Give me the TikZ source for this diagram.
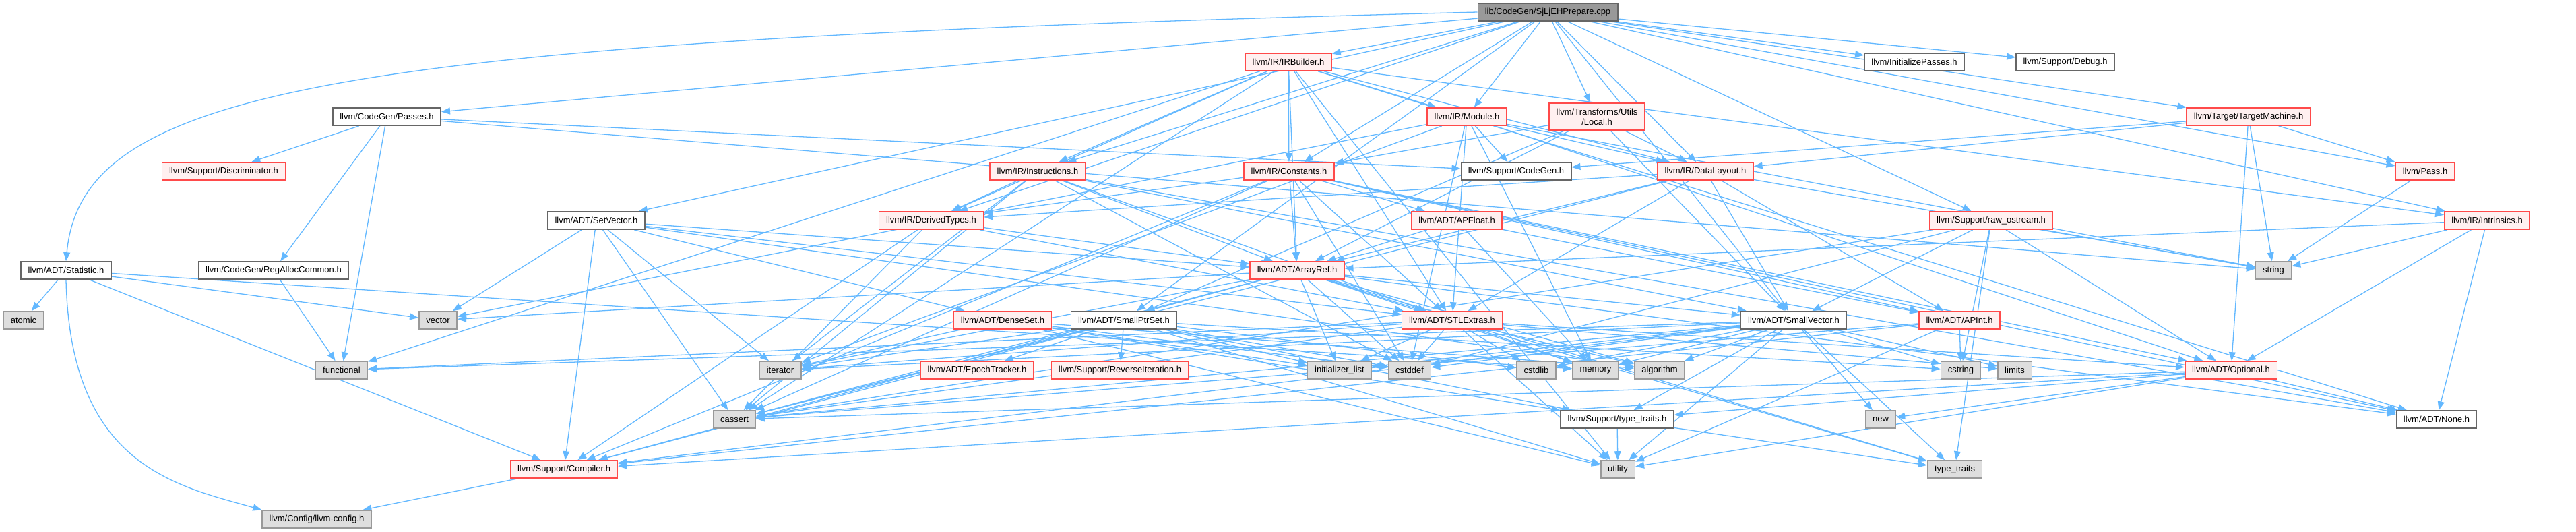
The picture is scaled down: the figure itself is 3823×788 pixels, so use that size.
\documentclass[tikz,border=0pt]{standalone}
\usepackage{fontspec}
\setmainfont{Liberation Sans}
\usetikzlibrary{arrows.meta,backgrounds}
\definecolor{edgeblue}{HTML}{63B8FF}
\definecolor{truncfill}{HTML}{FFF0F0}
\definecolor{truncdraw}{HTML}{FF4A4A}
\definecolor{sysfill}{HTML}{DEDEDE}
\begin{document}
\begin{tikzpicture}[x=1pt, y=-1pt,
    every node/.style={rectangle, minimum height=26pt, inner xsep=10.5pt, inner ysep=0pt,
      line width=1.6pt, font=\fontsize{13}{15}\selectfont},
    hdr/.style={draw=black!60, fill=white},
    trunc/.style={draw=truncdraw, fill=truncfill},
    sys/.style={draw=black!40, fill=sysfill},
    rootnode/.style={draw=black!60, fill=black!40},
    dep/.style={draw=edgeblue, line width=1.3pt, -{Triangle[length=13pt,width=10pt]}}]
      \useasboundingbox (0,0) rectangle (3823,788);

      \node[rootnode] (root) at (2297,18) {lib/CodeGen/SjLjEHPrepare.cpp};

      \node[trunc] (irbuilder) at (1912,92) {llvm/IR/IRBuilder.h};
      \node[hdr] (initpasses) at (2841,92) {llvm/InitializePasses.h};
      \node[hdr] (debug) at (3065,92) {llvm/Support/Debug.h};

      \node[hdr] (cgpasses) at (574,173) {llvm/CodeGen/Passes.h};
      \node[trunc] (module) at (2177,173) {llvm/IR/Module.h};
      \node[trunc, minimum height=40pt, align=center] (local) at (2370,173) {llvm/Transforms/Utils\\/Local.h};
      \node[trunc] (targetmachine) at (3337,173) {llvm/Target/TargetMachine.h};

      \node[trunc] (discriminator) at (332,254) {llvm/Support/Discriminator.h};
      \node[trunc] (instructions) at (1540,254) {llvm/IR/Instructions.h};
      \node[trunc] (constants) at (1913,254) {llvm/IR/Constants.h};
      \node[hdr] (codegen) at (2250,254) {llvm/Support/CodeGen.h};
      \node[trunc] (datalayout) at (2531,254) {llvm/IR/DataLayout.h};
      \node[trunc] (pass) at (3599,254) {llvm/Pass.h};

      \node[hdr] (setvector) at (885,327) {llvm/ADT/SetVector.h};
      \node[trunc] (derivedtypes) at (1382,327) {llvm/IR/DerivedTypes.h};
      \node[trunc] (apfloat) at (2162,327) {llvm/ADT/APFloat.h};
      \node[trunc] (rawostream) at (2955,327) {llvm/Support/raw\_ostream.h};
      \node[trunc] (intrinsics) at (3691,327) {llvm/IR/Intrinsics.h};

      \node[hdr] (statistic) at (98,401) {llvm/ADT/Statistic.h};
      \node[hdr] (regalloc) at (406,401) {llvm/CodeGen/RegAllocCommon.h};
      \node[trunc] (arrayref) at (1925,401) {llvm/ADT/ArrayRef.h};
      \node[sys] (string) at (3374,401) {string};

      \node[sys] (atomic) at (35,475) {atomic};
      \node[sys] (vector) at (650,475) {vector};
      \node[trunc] (denseset) at (1488,475) {llvm/ADT/DenseSet.h};
      \node[hdr] (smallptrset) at (1668,475) {llvm/ADT/SmallPtrSet.h};
      \node[trunc] (stlextras) at (2155,475) {llvm/ADT/STLExtras.h};
      \node[hdr] (smallvector) at (2662,475) {llvm/ADT/SmallVector.h};
      \node[trunc] (apint) at (2908,475) {llvm/ADT/APInt.h};

      \node[sys] (functional) at (507,549) {functional};
      \node[sys] (iterator) at (1158,549) {iterator};
      \node[trunc] (epoch) at (1450,549) {llvm/ADT/EpochTracker.h};
      \node[trunc] (reviter) at (1662,549) {llvm/Support/ReverseIteration.h};
      \node[sys] (initlist) at (1988,549) {initializer\_list};
      \node[sys] (cstddef) at (2092,549) {cstddef};
      \node[sys] (cstdlib) at (2280,549) {cstdlib};
      \node[sys] (memory) at (2368,549) {memory};
      \node[sys] (algorithm) at (2463,549) {algorithm};
      \node[sys] (cstring) at (2910,549) {cstring};
      \node[sys] (limits) at (2990,549) {limits};
      \node[trunc] (optional) at (3311,549) {llvm/ADT/Optional.h};

      \node[sys] (cassert) at (1090,622) {cassert};
      \node[hdr] (typetraitsh) at (2400,622) {llvm/Support/type\_traits.h};
      \node[sys] (new) at (2791,622) {new};
      \node[hdr] (none) at (3616,622) {llvm/ADT/None.h};

      \node[trunc] (compiler) at (837,696) {llvm/Support/Compiler.h};
      \node[sys] (utility) at (2401,696) {utility};
      \node[sys] (typetraits) at (2901,696) {type\_traits};

      \node[sys] (llvmconfig) at (470,770) {llvm/Config/llvm-config.h};

      \begin{scope}[on background layer]
        \foreach \t in {irbuilder,cgpasses,setvector,smallptrset,smallvector,constants,datalayout,
            derivedtypes,instructions,intrinsics,module,initpasses,pass,debug,rawostream,targetmachine,local}
          \draw[dep] (root) -- (\t);
        \draw[dep] (root.west) .. controls (500,60) and (122,130) .. (statistic.north);
        \foreach \t in {discriminator,regalloc,functional,codegen,string}
          \draw[dep] (cgpasses) -- (\t);
        \draw[dep] (regalloc) -- (functional);
        \foreach \t in {atomic,vector,memory,compiler}
          \draw[dep] (statistic) -- (\t);
        \draw[dep] (statistic.south) .. controls (104,690) and (260,720) .. (llvmconfig.north west);
        \draw[dep] (compiler) -- (llvmconfig);
        \foreach \t in {arrayref,none,stlextras,constants,datalayout,derivedtypes,instructions,intrinsics,
            module,cassert,functional,utility}
          \draw[dep] (irbuilder) -- (\t);
        \foreach \t in {optional,stlextras,datalayout,codegen,cstddef,iterator,memory,string,vector}
          \draw[dep] (module) -- (\t);
        \foreach \t in {arrayref,smallptrset,smallvector,constants,datalayout}
          \draw[dep] (local) -- (\t);
        \foreach \t in {codegen,datalayout,pass,optional,string}
          \draw[dep] (targetmachine) -- (\t);
        \foreach \t in {arrayref,none,stlextras,smallvector,derivedtypes,cassert,cstddef,iterator}
          \draw[dep] (instructions) -- (\t);
        \foreach \t in {apfloat,apint,arrayref,none,optional,stlextras,derivedtypes,compiler,cassert,cstddef}
          \draw[dep] (constants) -- (\t);
        \foreach \t in {apint,arrayref,stlextras,smallvector,derivedtypes,cassert,string}
          \draw[dep] (datalayout) -- (\t);
        \draw[dep] (pass) -- (string);
        \foreach \t in {arrayref,none,optional,string}
          \draw[dep] (intrinsics) -- (\t);
        \foreach \t in {smallvector,optional,cassert,cstddef,cstring,string,typetraits}
          \draw[dep] (rawostream) -- (\t);
        \foreach \t in {arrayref,denseset,stlextras,compiler,algorithm,cassert,iterator,vector}
          \draw[dep] (setvector) -- (\t);
        \foreach \t in {arrayref,stlextras,compiler,cassert}
          \draw[dep] (derivedtypes) -- (\t);
        \foreach \t in {apint,arrayref,memory}
          \draw[dep] (apfloat) -- (\t);
        \foreach \t in {none,smallvector,stlextras,compiler,algorithm,cassert,cstddef,initlist,iterator,
            memory,typetraits,vector}
          \draw[dep] (arrayref) -- (\t);
        \foreach \t in {typetraitsh,algorithm,cstddef,initlist,iterator,utility}
          \draw[dep] (denseset) -- (\t);
        \foreach \t in {epoch,reviter,compiler,typetraitsh,cassert,cstddef,cstdlib,cstring,initlist,
            iterator,utility}
          \draw[dep] (smallptrset) -- (\t);
        \foreach \t in {optional,algorithm,cassert,cstddef,cstdlib,functional,initlist,iterator,limits,
            memory,typetraits,utility}
          \draw[dep] (stlextras) -- (\t);
        \foreach \t in {compiler,typetraitsh,algorithm,cassert,cstddef,cstdlib,cstring,functional,initlist,
            iterator,limits,memory,new,typetraits,utility}
          \draw[dep] (smallvector) -- (\t);
        \foreach \t in {compiler,cassert,cstring,utility}
          \draw[dep] (apint) -- (\t);
        \foreach \t in {none,compiler,typetraitsh,cassert,new,utility}
          \draw[dep] (optional) -- (\t);
        \foreach \t in {utility,typetraits}
          \draw[dep] (typetraitsh) -- (\t);
      \end{scope}
    \end{tikzpicture}
\end{document}
